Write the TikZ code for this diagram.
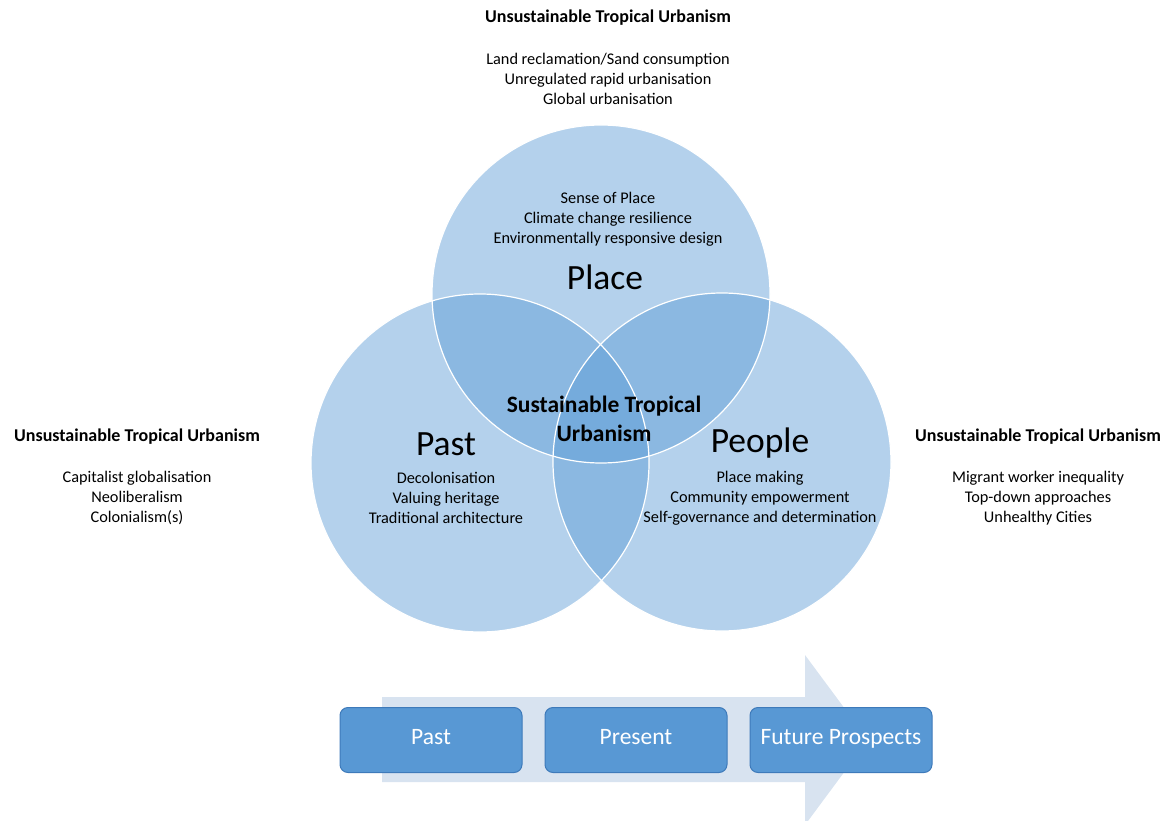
\documentclass[tikz,border=0pt]{standalone}
\usepackage{fontspec}
\setmainfont{Carlito}
\usetikzlibrary{positioning}
\definecolor{vennblue}{RGB}{91,155,213}
\definecolor{boxblue}{RGB}{88,152,212}
\definecolor{boxedge}{RGB}{62,122,186}
\definecolor{arrowgrey}{RGB}{216,227,240}
\tikzset{%
   venn/.style={circle, inner sep=0pt, minimum size=338pt, fill=vennblue, fill opacity=0.46},
   vennrim/.style={circle, inner sep=0pt, minimum size=338pt, draw=white, line width=1.2pt},
   uttitle/.style={font=\fontsize{18}{21}\bfseries\selectfont, align=center},
   items/.style={font=\fontsize{16.3}{20}\selectfont, align=center},
   bigword/.style={font=\fontsize{35.5}{40}\selectfont},
   coretext/.style={font=\fontsize{23.5}{29}\bfseries\selectfont, align=center},
   stagebox/.style={rectangle, rounded corners=8pt, minimum width=182pt, minimum height=65pt,
      fill=boxblue, draw=boxedge, line width=1pt, text=white, text height=0.95em, text depth=0pt,
      font=\fontsize{23.5}{26}\selectfont},
}

\begin{document}
\begin{tikzpicture}[x=1pt, y=-1pt]
   \useasboundingbox (0,0) rectangle (1165,821);
   \clip (0,0) rectangle (1165,821);
   % timeline arrow behind the boxes
   \fill[arrowgrey] (382,697) -- (805,697) -- (805,655) -- (868,740) -- (805,825)
      -- (805,782) -- (382,782) -- cycle;
   % the three circles
   \node[venn] (place) at (601,294) {};
   \node[venn] (past) at (480,463) {};
   \node[venn] (people) at (722,462) {};
   \node[vennrim] at (place.center) {};
   \node[vennrim] at (past.center) {};
   \node[vennrim] at (people.center) {};
   % circle texts
   \node[items] (placeitems) at (608,219) {Sense of Place\\Climate change resilience\\Environmentally responsive design};
   \node[bigword] (placename) at (605,277) {Place};
   \node[bigword] (pastname) at (446,444) {Past};
   \node[items] (pastitems) at (446,498) {Decolonisation\\Valuing heritage\\Traditional architecture};
   \node[bigword] (peoplename) at (760,443) {People};
   \node[items] (peopleitems) at (760,498) {Place making\\Community empowerment\\Self-governance and determination};
   \node[coretext] (core) at (604,419) {Sustainable Tropical\\Urbanism};
   % outside texts
   \node[uttitle] (toptitle) at (608,18) {Unsustainable Tropical Urbanism};
   \node[items] (topitems) at (608,79) {Land reclamation/Sand consumption\\Unregulated rapid urbanisation\\Global urbanisation};
   \node[uttitle] (lefttitle) at (137,437) {Unsustainable Tropical Urbanism};
   \node[items] (leftitems) at (137,498) {Capitalist globalisation\\Neoliberalism\\Colonialism(s)};
   \node[uttitle] (righttitle) at (1038,437) {Unsustainable Tropical Urbanism};
   \node[items] (rightitems) at (1038,498) {Migrant worker inequality\\Top-down approaches\\Unhealthy Cities};
   % stages
   \node[stagebox] (stpast) at (431,740) {Past};
   \node[stagebox, right=22pt of stpast] (stpresent) {Present};
   \node[stagebox, right=22pt of stpresent] (stfuture) {Future Prospects};
\end{tikzpicture}
\end{document}
